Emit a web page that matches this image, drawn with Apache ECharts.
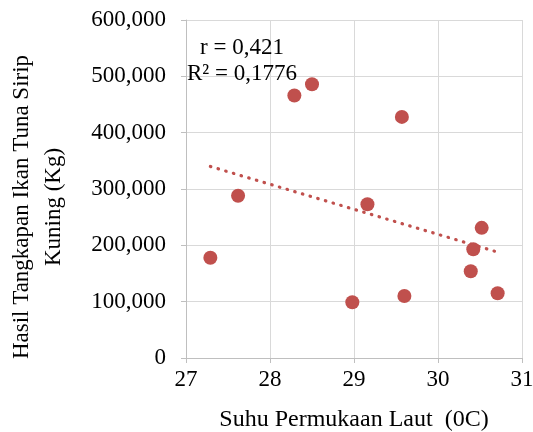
<!DOCTYPE html>
<html>
<head>
<meta charset="utf-8">
<script src="https://cdn.jsdelivr.net/npm/echarts@6/dist/echarts.min.js"></script>
<style>
  html, body { margin: 0; padding: 0; background: #fff; }
  #chart { width: 533px; height: 432px; }
</style>
</head>
<body>
<div id="chart"></div>
<script>
// data
const suhu = [27.29, 27.62, 28.29, 28.50, 29.57, 29.16, 28.98, 29.60, 30.52, 30.42, 30.39, 30.71]
const hasil = [178000, 288000, 466000, 486000, 428000, 273000, 99000, 110000, 231000, 193000, 154000, 115000]
// trendline ends
const trendX = [27.29, 30.71]
const trendY = [340000, 188000]
const statLines = ['r = 0,421', 'R² = 0,1776']

const font = '"Liberation Serif", "Times New Roman", serif'
const red = '#C0504D'

const chart = echarts.init(document.getElementById('chart'))

const option = {
  animation: false,
  grid: { left: 186, right: 11, top: 20, bottom: 74, outerBoundsMode: 'none', containLabel: false },
  xAxis: {
    type: 'value',
    min: 27,
    max: 31,
    interval: 1,
    axisLine: { show: true, lineStyle: { color: '#bfbfbf', width: 1 } },
    axisTick: { show: true, length: 5, lineStyle: { color: '#bfbfbf' } },
    axisLabel: { fontFamily: font, fontSize: 23, color: '#000', margin: 10 },
    splitLine: { show: true, lineStyle: { color: '#d9d9d9', width: 1 } }
  },
  yAxis: {
    type: 'value',
    min: 0,
    max: 600000,
    interval: 100000,
    axisLine: { show: true, lineStyle: { color: '#bfbfbf', width: 1 } },
    axisTick: { show: true, length: 5, lineStyle: { color: '#bfbfbf' } },
    axisLabel: {
      fontFamily: font,
      fontSize: 23,
      color: '#000',
      margin: 20,
      formatter: v => v === 0 ? '0' : v.toLocaleString('en-US')
    },
    splitLine: { show: true, lineStyle: { color: '#d9d9d9', width: 1 } }
  },
  graphic: [
    // x axis title
    {
      type: 'text',
      x: 354,
      y: 420,
      style: {
        text: 'Suhu Permukaan Laut  (0C)',
        font: '24px ' + font,
        fill: '#000',
        align: 'center',
        verticalAlign: 'middle'
      }
    },
    // y axis title
    {
      type: 'text',
      x: 38,
      y: 207,
      rotation: Math.PI / 2,
      style: {
        text: 'Hasil Tangkapan Ikan Tuna Sirip\nKuning (Kg)',
        font: '23px ' + font,
        fill: '#000',
        align: 'center',
        verticalAlign: 'middle',
        lineHeight: 32
      }
    },
    {
      type: 'text',
      x: 242,
      y: 61,
      z: 10,
      style: {
        text: statLines.join('\n'),
        font: '23px ' + font,
        fill: '#000',
        align: 'center',
        verticalAlign: 'middle',
        lineHeight: 26
      }
    }
  ],
  series: [
    {
      type: 'line',
      data: trendX.map((x, i) => [x, trendY[i]]),
      symbol: 'none',
      lineStyle: { color: red, width: 3.2, type: [0.5, 7.5], cap: 'round' },
      z: 2
    },
    {
      type: 'scatter',
      data: suhu.map((x, i) => [x, hasil[i]]),
      symbol: 'circle',
      symbolSize: 14,
      itemStyle: { color: red, opacity: 1 },
      z: 3
    }
  ]
}

chart.setOption(option)
</script>
</body>
</html>
